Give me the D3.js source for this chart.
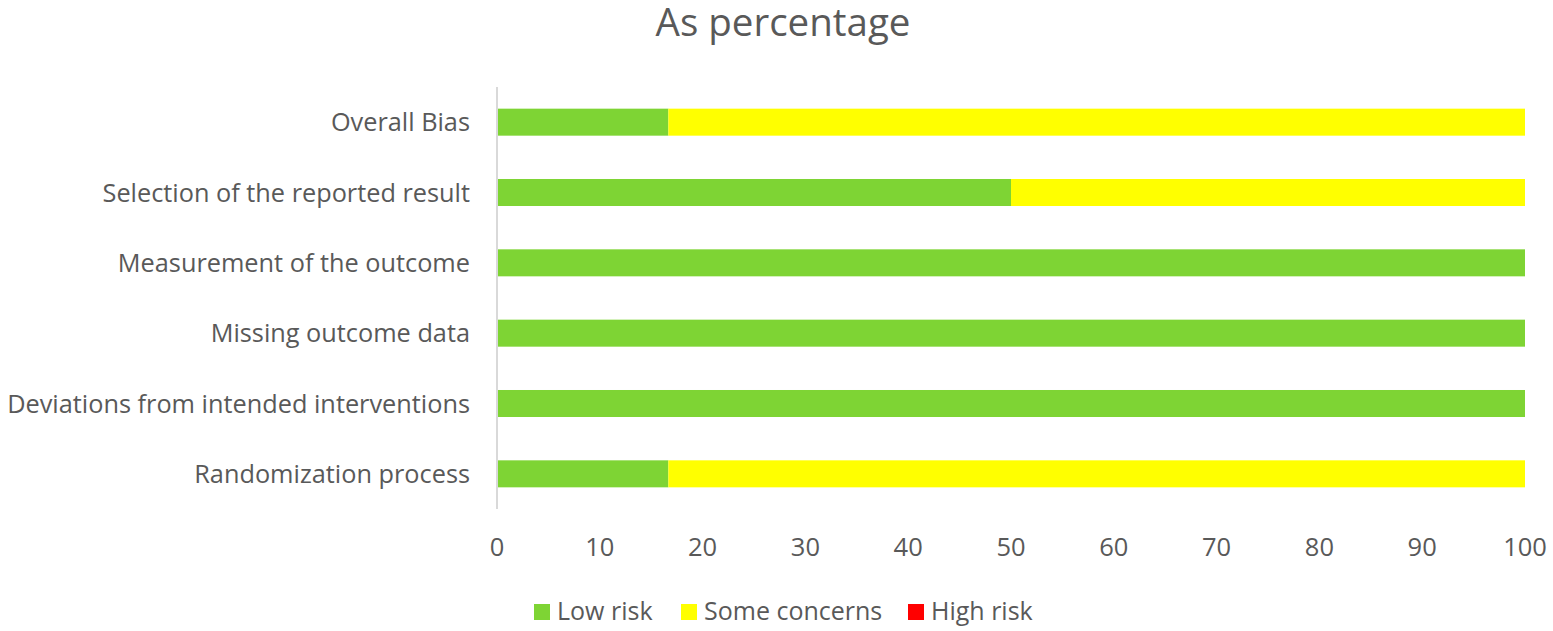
<!DOCTYPE html>
<html><head><meta charset="utf-8">
<script src="https://cdn.jsdelivr.net/npm/d3@7"></script>
<style>body{margin:0;background:#fff}svg{display:block}text{font-family:"Open Sans",Lato,sans-serif;fill:#595959}</style>
</head><body><svg id="c" width="1553" height="631"></svg>
<script>
const categories = ["Overall Bias","Selection of the reported result","Measurement of the outcome","Missing outcome data","Deviations from intended interventions","Randomization process"];
const seriesNames = ["Low risk","Some concerns","High risk"];
const lowRisk = [16.67, 50, 100, 100, 100, 16.67];
const someConcerns = [83.33, 50, 0, 0, 0, 83.33];
const highRisk = [0, 0, 0, 0, 0, 0];
const xTicks = [0,10,20,30,40,50,60,70,80,90,100];
const colors = ["#7ED434","#FFFF00","#FF0000"];

const svg = d3.select("#c");
const x = d3.scaleLinear().domain([0,100]).range([497,1525]);
const y = d3.scaleBand().domain(categories).range([87,509]).paddingInner(0.616).paddingOuter(0.308);

const rows = categories.map((c,i)=>({cat:c, vals:[lowRisk[i], someConcerns[i], highRisk[i]]}));
const stack = d3.stack().keys([0,1,2]).value((d,k)=>d.vals[k]);
const layers = stack(rows);

svg.append("text").attr("x",783).attr("y",36).attr("text-anchor","middle").style("font-size","38.5px").text("As percentage");

svg.selectAll("g.layer").data(layers).join("g").attr("fill",(d,i)=>colors[i])
  .selectAll("rect").data(d=>d).join("rect")
  .attr("x",d=>x(d[0])).attr("width",d=>x(d[1])-x(d[0]))
  .attr("y",d=>y(d.data.cat)).attr("height",y.bandwidth());

svg.append("line").attr("x1",x(0)).attr("x2",x(0)).attr("y1",87).attr("y2",509).attr("stroke","#d9d9d9").attr("stroke-width",2);

svg.selectAll("text.cat").data(categories).join("text").attr("class","cat")
  .attr("x",470).attr("y",d=>y(d)+y.bandwidth()/2).attr("dy","0.36em").attr("text-anchor","end")
  .style("font-size","25.3px").text(d=>d);

svg.selectAll("text.tick").data(xTicks).join("text").attr("class","tick")
  .attr("x",d=>x(d)).attr("y",556).attr("text-anchor","middle").style("font-size","25.5px").text(d=>d);

const legX = [534,681,908];
const lg = svg.selectAll("g.leg").data(seriesNames).join("g").attr("class","leg");
lg.append("rect").attr("x",(d,i)=>legX[i]).attr("y",604).attr("width",16).attr("height",16).attr("fill",(d,i)=>colors[i]);
lg.append("text").attr("x",(d,i)=>legX[i]+23).attr("y",620).style("font-size","25px").text(d=>d);
</script></body></html>
